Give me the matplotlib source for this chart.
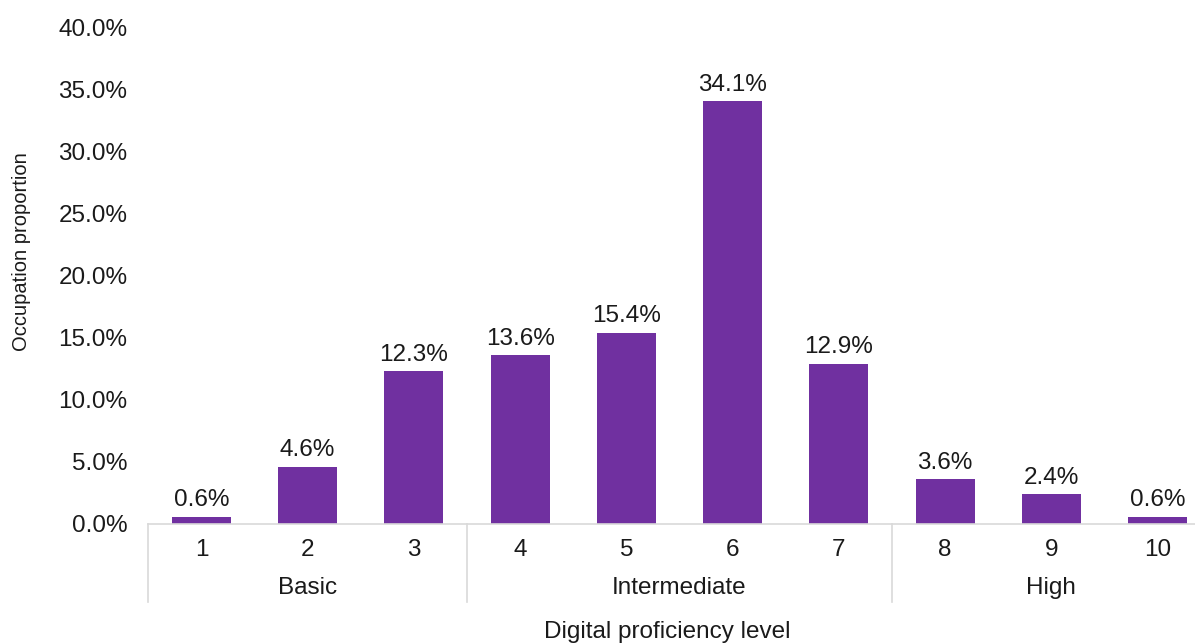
import numpy as np
import matplotlib.pyplot as plt
from matplotlib.ticker import PercentFormatter
from matplotlib.transforms import blended_transform_factory

plt.rcParams['font.family'] = ['Liberation Sans', 'DejaVu Sans']

levels = ['1', '2', '3', '4', '5', '6', '7', '8', '9', '10']
shares = [0.6, 4.6, 12.3, 13.6, 15.4, 34.1, 12.9, 3.6, 2.4, 0.6]
groups = ['Basic', 'Intermediate', 'High']
group_spans = [(0, 2), (3, 6), (7, 9)]

purple = '#7030A0'
grid_grey = '#d9d9d9'
text_col = '#1a1a1a'
fs = 17.5

fig = plt.figure(figsize=(11.95, 6.43), dpi=100)
ax = fig.add_axes([0.1241, 0.1851, 0.889, 0.7714])

x = np.arange(len(levels))
bars = ax.bar(x, shares, width=0.555, color=purple)

for b, v in zip(bars, shares):
    ax.annotate(f'{v:.1f}%', (b.get_x() + b.get_width() / 2, v),
                xytext=(0, 4), textcoords='offset points',
                ha='center', va='bottom', fontsize=fs, color=text_col)

ax.set_xlim(-0.5, len(levels) - 0.5)
ax.set_ylim(0, 40)
ax.set_yticks(np.arange(0, 41, 5))
ax.yaxis.set_major_formatter(PercentFormatter(decimals=1))
ax.tick_params(axis='y', length=0, pad=15, labelsize=fs, labelcolor=text_col)
ax.set_xticks([])

for s in ['top', 'right', 'left']:
    ax.spines[s].set_visible(False)
ax.spines['bottom'].set_color(grid_grey)
ax.spines['bottom'].set_linewidth(1.2)

trans = blended_transform_factory(ax.transData, ax.transAxes)

# level numbers and group names under the axis
for xi, lab in zip(x, levels):
    ax.text(xi, -0.052, lab, transform=trans, ha='center', va='center',
            fontsize=fs, color=text_col)
for name, (a, b) in zip(groups, group_spans):
    ax.text((a + b) / 2, -0.13, name, transform=trans, ha='center', va='center',
            fontsize=fs, color=text_col)

# group separators
for xs in [-0.5, 2.5, 6.5, 9.5]:
    ax.plot([xs, xs], [0, -0.157], transform=trans, color=grid_grey,
            lw=1.2, clip_on=False)

fig.text(667 / 1195, 1 - 632 / 643, 'Digital proficiency level', ha='center',
         va='center', fontsize=fs, color=text_col)
fig.text(22 / 1195, 1 - 252 / 643, 'Occupation proportion', rotation=90,
         ha='center', va='center', fontsize=14.5, color=text_col)

fig.savefig('out.png', dpi=100)
